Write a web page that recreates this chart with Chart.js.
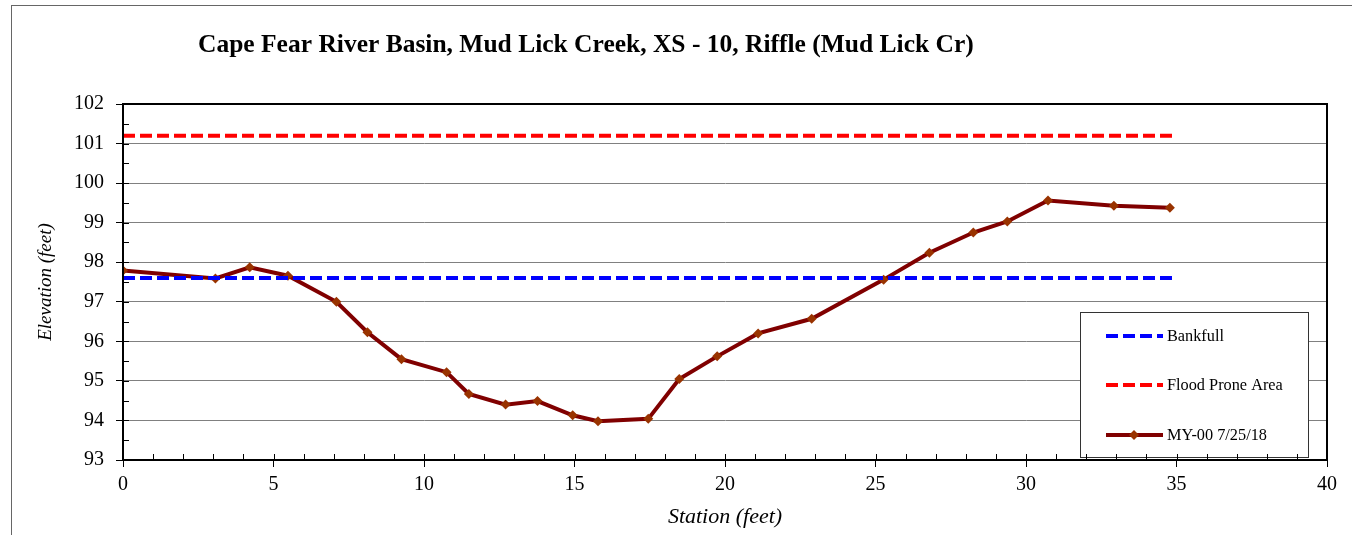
<!DOCTYPE html>
<html>
<head>
<meta charset="utf-8">
<script src="https://cdn.jsdelivr.net/npm/chart.js@4"></script>
<style>
  html, body { margin: 0; padding: 0; background: #fff; }
  #wrap { position: relative; width: 1352px; height: 535px; }
  #frame { position: absolute; left: 11px; top: 5px; right: -2px; bottom: -2px; border-left: 1px solid #666; border-top: 1px solid #666; }
  canvas { position: absolute; left: 0; top: 0; }
</style>
</head>
<body>
<div id="wrap">
  <div id="frame"></div>
  <canvas id="xsChart" width="1352" height="535"></canvas>
</div>
<script>
// ===============================
// DATA
// ===============================
const TITLE = "Cape Fear River Basin, Mud Lick Creek, XS - 10, Riffle (Mud Lick Cr)";
const stations = [0, 3.07, 4.21, 5.48, 7.09, 8.12, 9.25, 10.75, 11.49, 12.71, 13.77, 14.94, 15.78,
    17.45, 18.48, 19.74, 21.1, 22.88, 25.27, 26.79, 28.25, 29.38, 30.73, 32.92, 34.78];
const elevations = [97.79, 97.59, 97.87, 97.66, 97.0, 96.23, 95.55, 95.22, 94.67, 94.4, 94.49, 94.13, 93.98,
    94.04, 95.05, 95.62, 96.2, 96.57, 97.56, 98.24, 98.75, 99.03, 99.56, 99.43, 99.38];
const lineExtent = [0, 34.85];
const bankfull = 97.6;
const floodProne = 101.2;
const xTicks = [0, 5, 10, 15, 20, 25, 30, 35, 40];
const yTicks = [93, 94, 95, 96, 97, 98, 99, 100, 101, 102];

const SERIF = "'Liberation Serif', 'Times New Roman', serif";
const DASH = [12, 5];

// ===============================
// PLUGINS
// ===============================
const frameAndTitle = {
    id: 'frameAndTitle',
    beforeDraw(c) {
        const ctx = c.ctx;
        ctx.save();
        ctx.fillStyle = '#000';
        ctx.font = `bold 25.5px ${SERIF}`;
        ctx.textBaseline = 'alphabetic';
        ctx.fillText(TITLE, 198, 52);
        ctx.restore();
    },
    afterDraw(c) {
        const { ctx, chartArea: a, scales } = c;
        ctx.save();
        ctx.strokeStyle = '#000';
        ctx.lineWidth = 2;
        ctx.strokeRect(a.left, a.top, a.right - a.left, a.bottom - a.top);
        // minor ticks, drawn inside the plot
        ctx.lineWidth = 1;
        ctx.beginPath();
        for (let v = 0; v <= 40; v += 1) {
            const px = Math.round(scales.x.getPixelForValue(v)) + 0.5;
            ctx.moveTo(px, a.bottom);
            ctx.lineTo(px, a.bottom - 6);
        }
        for (let v = 93; v <= 102; v += 0.5) {
            const py = Math.round(scales.y.getPixelForValue(v)) + 0.5;
            ctx.moveTo(a.left, py);
            ctx.lineTo(a.left + 6, py);
        }
        ctx.stroke();
        ctx.restore();
    }
};

const boxLegend = {
    id: 'boxLegend',
    afterDatasetsDraw(c) {
        const ctx = c.ctx;
        const box = { x: 1080, y: 312, w: 228, h: 145 };
        ctx.save();
        ctx.fillStyle = '#fff';
        ctx.fillRect(box.x, box.y, box.w, box.h);
        ctx.strokeStyle = '#333';
        ctx.lineWidth = 1;
        ctx.strokeRect(box.x + 0.5, box.y + 0.5, box.w, box.h);
        const rows = [336, 385, 435];
        ctx.font = `16.3px ${SERIF}`;
        ctx.textBaseline = 'middle';
        c.data.datasets.forEach((ds, i) => {
            const y = rows[i];
            ctx.strokeStyle = ds.borderColor;
            ctx.lineWidth = ds.borderWidth;
            ctx.setLineDash(ds.borderDash || []);
            ctx.beginPath();
            ctx.moveTo(1106, y);
            ctx.lineTo(1163, y);
            ctx.stroke();
            ctx.setLineDash([]);
            if (ds.pointRadius > 0) {
                ctx.fillStyle = ds.pointBackgroundColor;
                ctx.beginPath();
                ctx.moveTo(1134, y - 5);
                ctx.lineTo(1139, y);
                ctx.lineTo(1134, y + 5);
                ctx.lineTo(1129, y);
                ctx.closePath();
                ctx.fill();
            }
            ctx.fillStyle = '#000';
            ctx.fillText(ds.label, 1167, y + 1);
        });
        ctx.restore();
    }
};

// ===============================
// CHART
// ===============================
const flat = (v) => lineExtent.map(x => ({ x, y: v }));

new Chart(document.getElementById('xsChart'), {
    type: 'scatter',
    data: {
        datasets: [
            { label: 'Bankfull', data: flat(bankfull), showLine: true, borderColor: '#0000ff', borderWidth: 4, borderDash: DASH, pointRadius: 0 },
            { label: 'Flood Prone Area', data: flat(floodProne), showLine: true, borderColor: '#ff0000', borderWidth: 4, borderDash: DASH, pointRadius: 0 },
            {
                label: 'MY-00 7/25/18',
                data: stations.map((s, i) => ({ x: s, y: elevations[i] })),
                showLine: true, borderColor: '#800000', borderWidth: 4,
                pointStyle: 'rectRot', pointRadius: 5, pointBackgroundColor: '#993300', pointBorderColor: '#993300', pointBorderWidth: 0
            }
        ]
    },
    options: {
        responsive: false,
        animation: false,
        layout: { padding: { left: 0, right: 25, top: 104, bottom: 0 } },
        plugins: { legend: { display: false }, tooltip: { enabled: false } },
        scales: {
            x: {
                type: 'linear', min: 0, max: 40,
                afterBuildTicks: (s) => { s.ticks = xTicks.map(v => ({ value: v })); },
                afterFit: (s) => { s.height = 75; },
                grid: { drawOnChartArea: false, tickLength: 7, color: '#000', tickWidth: 1 },
                border: { color: '#000', width: 2 },
                ticks: { color: '#000', font: { family: SERIF, size: 20 }, padding: 6, maxRotation: 0 },
                title: { display: true, text: 'Station (feet)', color: '#000', font: { family: SERIF, size: 22, style: 'italic' }, padding: { top: 0, bottom: 5 } }
            },
            y: {
                type: 'linear', min: 93, max: 102,
                afterBuildTicks: (s) => { s.ticks = yTicks.map(v => ({ value: v })); },
                afterFit: (s) => { s.width = 123; },
                grid: { color: '#808080', lineWidth: 1, tickLength: 7, tickColor: '#000' },
                border: { color: '#000', width: 2 },
                ticks: { color: '#000', font: { family: SERIF, size: 20 }, padding: 12 },
                title: { display: true, text: 'Elevation (feet)', color: '#000', font: { family: SERIF, size: 19, style: 'italic' }, padding: { top: 35, bottom: 0 } }
            }
        }
    },
    plugins: [frameAndTitle, boxLegend]
});
</script>
</body>
</html>
